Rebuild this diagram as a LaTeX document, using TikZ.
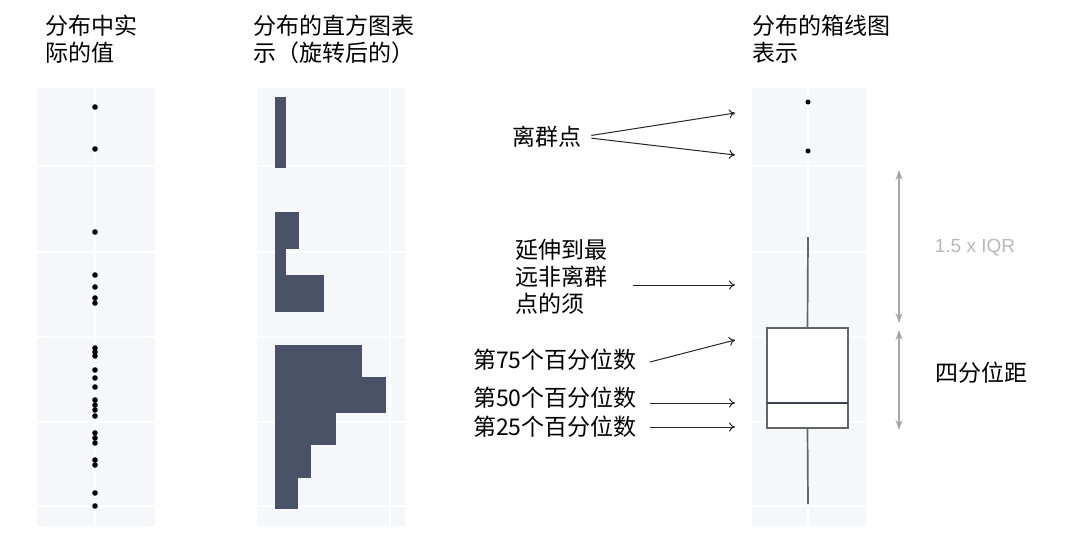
\documentclass[tikz,border=0pt]{standalone}
\usepackage{fontspec}
\setmainfont{Noto Sans CJK SC}
\newfontfamily\iqrfont{Liberation Sans}
\usetikzlibrary{arrows.meta}
\definecolor{panelbg}{RGB}{245,247,250}
\definecolor{barfill}{RGB}{74,82,104}
\definecolor{boxline}{RGB}{100,100,100}
\definecolor{rangegray}{RGB}{165,165,165}

\begin{document}
\begin{tikzpicture}[x=1pt,y=-1pt,
    txt/.style={inner sep=0pt,align=left,font=\fontsize{23}{27}\selectfont},
    gridline/.style={white,line width=1.5pt},
    datadot/.style={circle,fill=black,inner sep=0pt,minimum size=5.6pt},
    callout/.style={-{To[length=6pt,width=9pt]},line width=1pt,black!85},
    spanarrow/.style={{Stealth[length=10pt,width=7pt]}-{Stealth[length=10pt,width=7pt]},rangegray,line width=1.8pt},
    whisker/.style={boxline,line width=1.7pt}]
    \useasboundingbox (0,0) rectangle (1067,538);

    % panels
    \foreach \xa/\xb/\xm in {37/155/95, 257/405/390, 752/866/808} {
        \fill[panelbg] (\xa,88) rectangle (\xb,526);
        \foreach \yg in {166,252,337,422,506}
            \draw[gridline] (\xa,\yg) -- (\xb,\yg);
        \draw[gridline] (\xm,88) -- (\xm,526);
    }

    % headings
    \node[txt,anchor=north west] (headraw) at (45,15) {分布中实\\际的值};
    \node[txt,anchor=north west] (headhist) at (253,15) {分布的直方图表\\示（旋转后的）};
    \node[txt,anchor=north west] (headbox) at (752,15) {分布的箱线图\\表示};

    % raw values
    \foreach \yd [count=\i] in {107,149,232,275,287,298,303,348,352,356,370,378,387,400,405,410,416,433,438,443,460,465,493,506}
        \node[datadot] (d\i) at (95,\yd) {};

    % histogram
    \foreach \ya/\yb/\xw in {97/168/286, 212/249/299, 249/275/286, 275/312/324, 345/377/362, 377/413/386, 413/445/336, 445/478/311, 478/509/298}
        \fill[barfill] (275,\ya) rectangle (\xw,\yb);

    % box plot
    \coordinate (wtop) at (808,237);
    \coordinate (wbot) at (808,504);
    \node[draw=boxline,fill=white,line width=1.5pt,minimum width=81pt,minimum height=100pt,inner sep=0pt] (box) at (807.5,378) {};
    \draw[barfill!80!black,line width=2.4pt] (767,403) -- (848,403);
    \draw[whisker] (box.north) -- (wtop);
    \draw[whisker] (box.south) -- (wbot);
    \node[datadot,minimum size=5pt] (out1) at (808,102) {};
    \node[datadot,minimum size=5pt] (out2) at (808,151) {};

    % ranges
    \coordinate (rga) at (899,170);
    \coordinate (rgb) at (899,323);
    \coordinate (rgc) at (899,330);
    \coordinate (rgd) at (899,430);
    \draw[spanarrow] (rga) -- (rgb);
    \draw[spanarrow] (rgc) -- (rgd);
    \node[inner sep=0pt,font=\iqrfont\fontsize{19}{22}\selectfont,text=black!28] (iqrlab) at (975,248) {1.5 x IQR};
    \node[txt,anchor=west] (iqr) at (935,373) {四分位距};

    % callouts
    \node[txt,anchor=west] (outl) at (512,137) {离群点};
    \node[txt,anchor=north west] (whisk) at (515,239) {延伸到最\\远非离群\\点的须};
    \node[txt,anchor=west] (p75) at (473,360) {第75个百分位数};
    \node[txt,anchor=west] (p50) at (473,398) {第50个百分位数};
    \node[txt,anchor=west] (p25) at (473,427) {第25个百分位数};
    \coordinate (tipa) at (735,113);
    \coordinate (tipb) at (735,155);
    \coordinate (tipc) at (735,285);
    \coordinate (tipd) at (735,340);
    \coordinate (tipe) at (735,403);
    \coordinate (tipf) at (735,427);
    \draw[callout,shorten <=10pt] (outl.east) -- (tipa);
    \draw[callout,shorten <=10pt] (outl.east) -- (tipb);
    \draw[callout,shorten <=26pt] (whisk.east |- tipc) -- (tipc);
    \draw[callout] ([xshift=13pt,yshift=-2pt]p75.east) -- (tipd);
    \draw[callout,shorten <=13pt] (p50.east |- tipe) -- (tipe);
    \draw[callout,shorten <=13pt] (p25.east |- tipf) -- (tipf);
\end{tikzpicture}
\end{document}
